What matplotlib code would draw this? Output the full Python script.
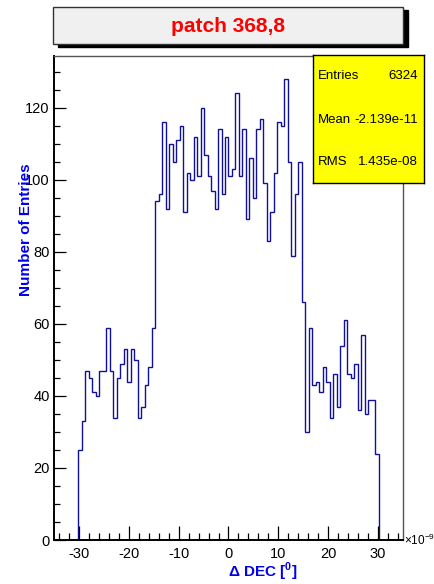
import numpy as np
import matplotlib
matplotlib.use('Agg')
import matplotlib.pyplot as plt
from matplotlib.patches import Rectangle

plt.rcParams['font.family'] = ['Liberation Sans', 'DejaVu Sans']
plt.rcParams['mathtext.fontset'] = 'custom'
plt.rcParams['mathtext.rm'] = 'Liberation Sans'
plt.rcParams['mathtext.bf'] = 'Liberation Sans:bold'
plt.rcParams['axes.unicode_minus'] = False

# Histogramm: 100 Bins von -35 bis 35 (x 1e-9), gefuellt ab Bin 7
n_bins = 100
x_min, x_max = -35, 35
first_bin = 7
counts = [25, 33, 47, 45, 41, 40, 47, 47, 59, 47,
          34, 45, 49, 53, 44, 53, 50, 34, 37, 43,
          48, 59, 94, 96, 116, 92, 110, 105, 111, 115,
          91, 102, 100, 112, 101, 120, 107, 101, 97, 92,
          114, 96, 112, 101, 103, 124, 101, 114, 89, 106,
          95, 114, 117, 99, 83, 91, 102, 116, 115, 128,
          105, 79, 96, 105, 66, 30, 59, 43, 44, 41,
          48, 44, 34, 46, 37, 54, 61, 46, 45, 49,
          36, 57, 35, 39, 39, 24]

title = 'patch 368,8'
stats_names = ['Entries', 'Mean', 'RMS']
stats_values = ['6324', '-2.139e-11', '1.435e-08']

W, H = 435, 584
fig = plt.figure(figsize=(W / 100, H / 100), dpi=100)


def fx(px):
    return px / W


def fy(py):
    return 1 - py / H


ax_l, ax_r, ax_t, ax_b = 54, 403, 56, 540
ax = fig.add_axes([fx(ax_l), fy(ax_b), fx(ax_r - ax_l), (ax_b - ax_t) / H])

values = np.zeros(n_bins)
values[first_bin:first_bin + len(counts)] = counts
edges = np.linspace(x_min, x_max, n_bins + 1)
ax.stairs(values, edges, color='#10109a', lw=1.0)

ax.set_xlim(x_min, x_max)
ax.set_ylim(0, 1.05 * max(counts))

ax.set_xticks(np.arange(-30, 31, 10))
ax.set_xticks(np.arange(-34, 35, 2), minor=True)
ax.set_yticks(np.arange(0, 121, 20))
ax.set_yticks(np.arange(0, 131, 5), minor=True)
ax.tick_params(axis='x', which='major', direction='in', length=10, width=0.9,
               labelsize=10.5, pad=5, top=False)
ax.tick_params(axis='x', which='minor', direction='in', length=5, width=0.9, top=False)
ax.tick_params(axis='y', which='major', direction='in', length=8.5, width=0.9,
               labelsize=10.5, pad=3, right=False)
ax.tick_params(axis='y', which='minor', direction='in', length=4.3, width=0.9, right=False)

for s in ['left', 'bottom']:
    ax.spines[s].set_linewidth(1.4)
    ax.spines[s].set_color('black')
for s in ['top', 'right']:
    ax.spines[s].set_linewidth(1.0)
    ax.spines[s].set_color('#555555')

fig.text(fx(26), fy(230), 'Number of Entries', rotation=90, color='#0000ee',
         fontsize=11, fontweight='bold', ha='center', va='center')
fig.text(fx(263), fy(572), r'$\mathbf{\Delta}$ DEC [$^{\mathbf{0}}$]', color='#0000ee',
         fontsize=11, fontweight='bold', ha='center', va='center')
fig.text(fx(404), fy(540), '×10$^{-9}$', fontsize=8.5, ha='left', va='center')

# Titelbox mit Schatten
tb_l, tb_r, tb_t, tb_b = 53, 403, 7, 44
fig.patches.append(Rectangle((fx(tb_l + 5), fy(tb_b + 3)), fx(tb_r - tb_l), (tb_b - tb_t) / H,
                             transform=fig.transFigure, facecolor='black', edgecolor='black'))
fig.patches.append(Rectangle((fx(tb_l), fy(tb_b)), fx(tb_r - tb_l), (tb_b - tb_t) / H,
                             transform=fig.transFigure, facecolor='#f0f0f0',
                             edgecolor='#333333', lw=1.0))
fig.text(fx((tb_l + tb_r) / 2), fy(26), title, color='#ff0000', fontsize=15,
         fontweight='bold', ha='center', va='center')

# Statistikbox
sb_l, sb_r, sb_t, sb_b = 313, 424, 55, 183
stat_ax = fig.add_axes([fx(sb_l), fy(sb_b), fx(sb_r - sb_l), (sb_b - sb_t) / H])
stat_ax.set_facecolor('#ffff00')
stat_ax.set_xticks([])
stat_ax.set_yticks([])
for s in stat_ax.spines.values():
    s.set_linewidth(1.0)
    s.set_color('black')
row_y = [76, 120, 162]
for name, val, ry in zip(stats_names, stats_values, row_y):
    fig.text(fx(318), fy(ry), name, fontsize=9.5, ha='left', va='center')
    fig.text(fx(418), fy(ry), val, fontsize=9.5, ha='right', va='center')

fig.savefig('out.png', dpi=100)
